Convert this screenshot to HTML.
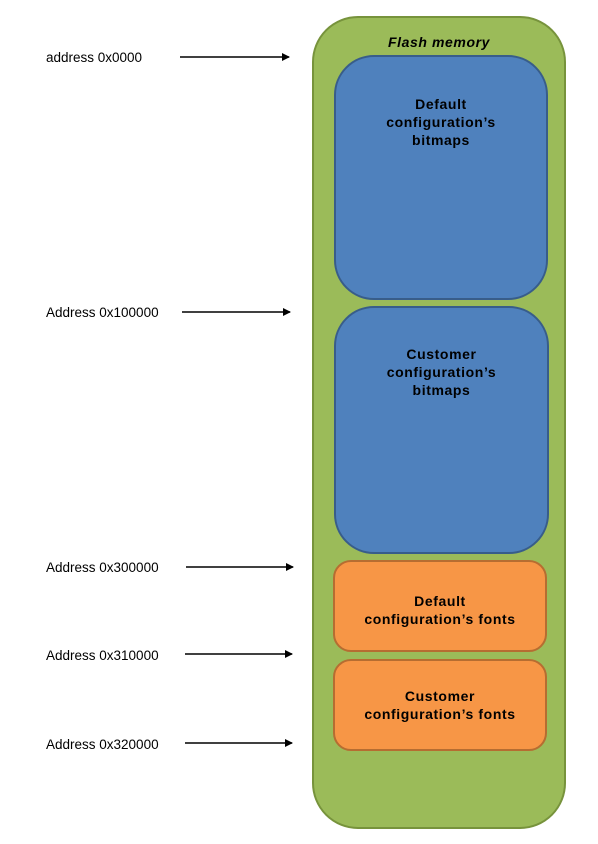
<!DOCTYPE html>
<html><head><style>
body{margin:0;background:#fff;width:598px;height:844px;position:relative;font-family:"Liberation Sans",sans-serif;overflow:hidden}
.b{position:absolute;box-sizing:border-box;text-align:center;font-weight:bold;font-size:14px;letter-spacing:0.6px;line-height:18px;color:#000}
.l{position:absolute;left:46px;font-size:13.5px;color:#000}
</style></head><body>
<div class="b" style="left:312px;top:16px;width:254px;height:813px;background:#9bbb59;border:2px solid #77933c;border-radius:46px"></div>
<div class="b" style="left:312px;top:33px;width:254px;font-style:italic;font-size:14px">Flash memory</div>
<div class="b" style="left:334px;top:55px;width:214px;height:245px;background:#4f81bd;border:2px solid #385d8a;border-radius:40px;padding-top:38px">Default<br>configuration’s<br>bitmaps</div>
<div class="b" style="left:334px;top:306px;width:215px;height:248px;background:#4f81bd;border:2px solid #385d8a;border-radius:40px;padding-top:37px">Customer<br>configuration’s<br>bitmaps</div>
<div class="b" style="left:333px;top:560px;width:214px;height:92px;background:#f79646;border:2px solid #b66d31;border-radius:18px;padding-top:30px">Default<br>configuration’s fonts</div>
<div class="b" style="left:333px;top:659px;width:214px;height:92px;background:#f79646;border:2px solid #b66d31;border-radius:18px;padding-top:26px">Customer<br>configuration’s fonts</div>
<div class="l" style="top:50px">address 0x0000</div>
<div class="l" style="top:305px">Address 0x100000</div>
<div class="l" style="top:560px">Address 0x300000</div>
<div class="l" style="top:648px">Address 0x310000</div>
<div class="l" style="top:737px">Address 0x320000</div>
<svg width="598" height="844" style="position:absolute;left:0;top:0">
<defs><marker id="a" markerWidth="8" markerHeight="8" refX="7" refY="4" orient="auto" markerUnits="userSpaceOnUse"><path d="M0,0L8,4L0,8z" fill="#000"/></marker></defs>
<g stroke="#000" stroke-width="1.5" marker-end="url(#a)">
<line x1="180" y1="57" x2="289" y2="57"/>
<line x1="182" y1="312" x2="290" y2="312"/>
<line x1="186" y1="567" x2="293" y2="567"/>
<line x1="185" y1="654" x2="292" y2="654"/>
<line x1="185" y1="743" x2="292" y2="743"/>
</g></svg>
</body></html>
